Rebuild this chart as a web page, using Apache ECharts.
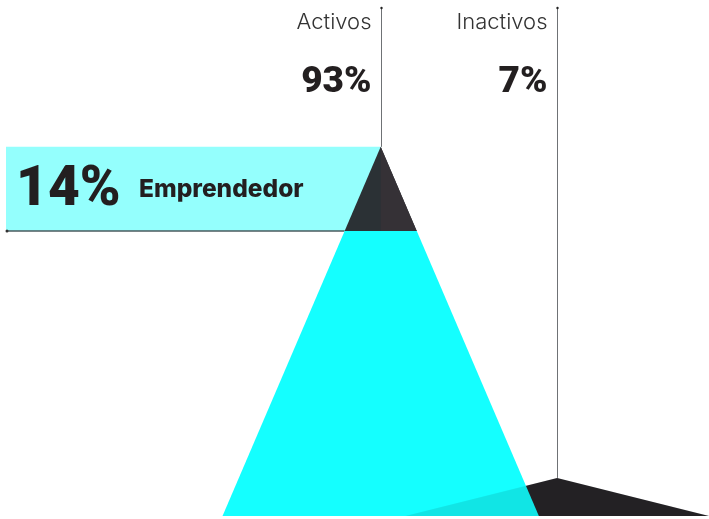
<!DOCTYPE html>
<html>
<head>
<meta charset="utf-8">
<script src="https://cdn.jsdelivr.net/npm/echarts@6/dist/echarts.min.js"></script>
<style>
  html, body { margin: 0; padding: 0; background: #fff; }
  #chart { width: 709px; height: 519px; }
</style>
</head>
<body>
<div id="chart"></div>
<script>
// datos
const categories = ['Activos', 'Inactivos'];
const shares = [93, 7];
const apexX = [53.3, 78.4];        // posición de cada pirámide en el eje x
const peakHeight = [93, 9.6];      // altura de cada pirámide (eje y)
const baseHalfWidth = [22.5, 21.6];
const lineTop = [128, 128];
const segmentNames = ['Emprendedor'];
const segmentShares = [14];
const segmentBottom = [71.8];      // dentro de la pirámide de Activos

const chart = echarts.init(document.getElementById('chart'));

const rows = categories.map((c, i) => [apexX[i], peakHeight[i], baseHalfWidth[i]]);

// puntos del triángulo entre y0 e y1
function slice(api, i, y0, y1) {
  const cx = apexX[i], h = peakHeight[i], w = baseHalfWidth[i];
  const half = y => w * (1 - y / h);
  return [
    api.coord([cx - half(y0), y0]),
    api.coord([cx + half(y0), y0]),
    api.coord([cx + half(y1), y1]),
    api.coord([cx - half(y1), y1])
  ];
}

const option = {
  animation: false,
  grid: { left: 6, right: 0, top: 0, bottom: 3 },
  xAxis: { type: 'value', min: 0, max: 100, show: false },
  yAxis: { type: 'value', min: 0, max: 130, show: false },
  series: [
    {
      // Inactivos (fondo)
      type: 'custom',
      data: [rows[1]],
      renderItem: (params, api) => ({
        type: 'polygon',
        shape: { points: slice(api, 1, 0, peakHeight[1]) },
        style: { fill: '#272529' }
      })
    },
    {
      // banda Emprendedor
      type: 'custom',
      data: [[0, segmentBottom[0]]],
      renderItem: (params, api) => {
        const tl = api.coord([0, peakHeight[0]]);
        const br = api.coord([apexX[0], segmentBottom[0]]);
        const edge = slice(api, 0, segmentBottom[0], segmentBottom[0])[0];
        return {
          type: 'group',
          children: [
            { type: 'rect', shape: { x: tl[0], y: tl[1], width: br[0] - tl[0], height: br[1] - tl[1] }, style: { fill: '#94fffd' } },
            { type: 'line', shape: { x1: tl[0], y1: br[1], x2: edge[0], y2: br[1] }, style: { stroke: '#4a5a5e', lineWidth: 1.5 } },
            { type: 'circle', shape: { cx: tl[0] + 1, cy: br[1], r: 1.5 }, style: { fill: '#333' } },
            {
              type: 'text', x: tl[0] + 10, y: (tl[1] + br[1]) / 2 + 2,
              style: { text: segmentShares[0] + '%', font: '900 55px Roboto', fill: '#231f20', align: 'left', verticalAlign: 'middle' }
            },
            {
              type: 'text', x: tl[0] + 133, y: (tl[1] + br[1]) / 2 + 1,
              style: { text: segmentNames[0], font: '800 24.5px Inter', fill: '#231f20', align: 'left', verticalAlign: 'middle' }
            }
          ]
        };
      }
    },
    {
      // Activos
      type: 'custom',
      data: [rows[0]],
      renderItem: (params, api) => {
        const top = slice(api, 0, segmentBottom[0], peakHeight[0]);
        const mid = api.coord([apexX[0], segmentBottom[0]]);
        return {
          type: 'group',
          children: [
            { type: 'polygon', shape: { points: slice(api, 0, 0, segmentBottom[0]) }, style: { fill: '#14ffff' } },
            { type: 'polygon', shape: { points: [top[0], top[1], top[2]] }, style: { fill: '#2b3135' } },
            { type: 'polygon', shape: { points: [mid, top[1], top[2]] }, style: { fill: '#353136' } }
          ]
        };
      }
    },
    {
      // Inactivos encima (transparente)
      type: 'custom',
      data: [rows[1]],
      renderItem: (params, api) => ({
        type: 'polygon',
        shape: { points: slice(api, 1, 0, peakHeight[1]) },
        style: { fill: '#000', opacity: 0.1 }
      })
    },
    {
      // líneas y textos
      type: 'custom',
      data: rows,
      renderItem: (params, api) => {
        const i = params.dataIndex;
        const a = api.coord([apexX[i], peakHeight[i]]);
        const t = api.coord([apexX[i], lineTop[i]]);
        const x = Math.round(a[0]) + 0.5;
        return {
          type: 'group',
          children: [
            { type: 'line', shape: { x1: x, y1: t[1], x2: x, y2: a[1] }, style: { stroke: '#6f7275', lineWidth: 1 } },
            { type: 'circle', shape: { cx: x, cy: t[1], r: 1.2 }, style: { fill: '#222' } },
            {
              type: 'text', x: x - 10, y: t[1] + 14,
              style: { text: categories[i], font: '300 22px Inter', fill: '#333', align: 'right', verticalAlign: 'middle' }
            },
            {
              type: 'text', x: x - 10, y: t[1] + 75,
              style: { text: shares[i] + '%', font: '900 37px Roboto', fill: '#231f20', align: 'right', verticalAlign: 'middle' }
            }
          ]
        };
      }
    }
  ]
};

chart.setOption(option);
</script>
</body>
</html>
